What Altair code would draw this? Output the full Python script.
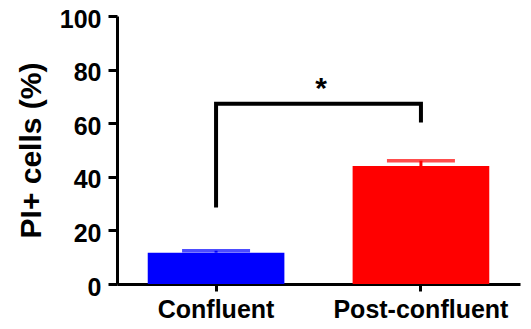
import altair as alt
import pandas as pd

categories = ["Confluent", "Post-confluent"]
means = [11.7, 44.0]
err_tops = [12.4, 46.0]
colors = ["#0000ff", "#ff0000"]

bracket_x = ["Confluent", "Confluent", "Post-confluent", "Post-confluent"]
bracket_y = [28.5, 67.3, 67.3, 60.3]
bracket_order = [0, 1, 2, 3]
star_label = "*"
star_y = 69.5

FONT = "Liberation Sans"

bars_df = pd.DataFrame({"group": categories, "mean": means, "top": err_tops})
br_df = pd.DataFrame({"group": bracket_x, "y": bracket_y, "o": bracket_order})

xscale = alt.Scale(domain=categories, paddingInner=0.333, paddingOuter=0.15)
yscale = alt.Scale(domain=[0, 100], nice=False)
cscale = alt.Scale(domain=categories, range=colors)

x_enc = alt.X("group:N", scale=xscale, sort=categories,
              axis=alt.Axis(title=None, labelAngle=0, labelFont=FONT, labelFontSize=25,
                            labelFontWeight="bold", labelColor="black", labelPadding=6,
                            domainColor="black", domainWidth=3, tickColor="black",
                            tickWidth=3, tickSize=7))
y_enc = alt.Y("mean:Q", scale=yscale,
              axis=alt.Axis(title="PI+ cells (%)", values=[0, 20, 40, 60, 80, 100],
                            labelFont=FONT, labelFontSize=25, labelFontWeight="bold",
                            labelColor="black", labelPadding=7, labelOffset=3, grid=False,
                            domainColor="black", domainWidth=3, tickColor="black",
                            tickWidth=3, tickSize=9, titleFont=FONT, titleFontSize=30,
                            titleFontWeight="bold", titleColor="black",
                            titleX=-86, titleY=134, titleAlign="center",
                            titleBaseline="middle", titleAngle=-90))

base = alt.Chart(bars_df)
bars = base.mark_bar().encode(
    x=x_enc, y=y_enc,
    color=alt.Color("group:N", scale=cscale, legend=None))
stems = base.mark_rule(strokeWidth=3).encode(
    x=alt.X("group:N", scale=xscale, sort=categories),
    y="mean:Q", y2="top:Q",
    color=alt.Color("group:N", scale=cscale, legend=None))
caps = base.mark_tick(thickness=3.5, size=68, orient="horizontal").encode(
    x=alt.X("group:N", scale=xscale, sort=categories),
    y=alt.Y("top:Q", scale=yscale),
    color=alt.Color("group:N", scale=cscale, legend=None))
bracket = alt.Chart(br_df).mark_line(color="black", strokeWidth=4, strokeCap="butt",
                                     strokeJoin="miter").encode(
    x=alt.X("group:N", scale=xscale, sort=categories),
    y=alt.Y("y:Q", scale=yscale),
    order="o:Q")
star = alt.Chart(pd.DataFrame({"t": [star_label], "y": [star_y]})).mark_text(
    font=FONT, fontSize=30, fontWeight="bold", color="black", baseline="alphabetic",
    align="center").encode(
    x=alt.value(204),
    y=alt.Y("y:Q", scale=yscale),
    text="t:N")

chart = alt.layer(bars, stems, caps, bracket, star).properties(
    width=403, height=268,
    autosize=alt.AutoSizeParams(type="none"),
    padding={"left": 109, "top": 8, "right": 3, "bottom": 37},
    background="white",
).configure_view(stroke=None)

chart.save("out.html", embed_options={"renderer": "svg", "actions": False})
